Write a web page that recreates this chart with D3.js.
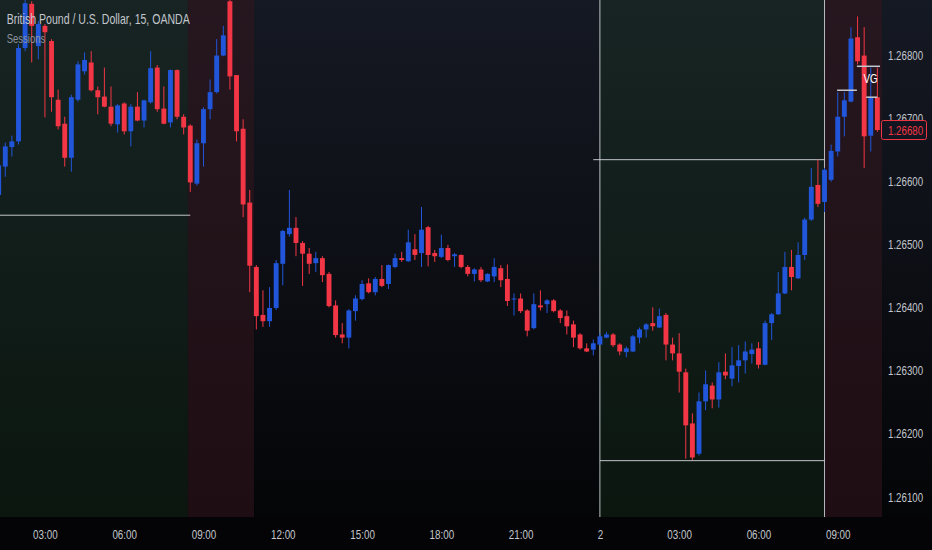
<!DOCTYPE html>
<html><head><meta charset="utf-8">
<script src="https://cdn.jsdelivr.net/npm/d3@7/dist/d3.min.js"></script>
<style>html,body{margin:0;padding:0;background:#000;overflow:hidden}svg{display:block}</style>
</head><body>
<svg id="c" width="932" height="550"></svg>
<script>
// ---- data (bar index 0 = day "2" 00:00, 15-minute bars) ----
const firstBar = -91;
const opens = [
1.26577,1.26622,1.26653,1.26662,1.26810,1.26880,1.26813,1.26845,1.26821,1.26728,
1.26690,1.26636,1.26728,1.26773,1.26787,1.26743,1.26733,1.26717,1.26689,1.26722,
1.26678,1.26717,1.26695,1.26724,1.26779,1.26714,1.26692,1.26775,1.26701,1.26687,
1.26595,1.26659,1.26713,1.26740,1.26798,1.26884,1.26767,1.26682,1.26565,1.26463,
1.26387,1.26377,1.26398,1.26468,1.26515,1.26525,1.26501,1.26484,1.26469,1.26477,
1.26452,1.26402,1.26356,1.26351,1.26393,1.26412,1.26437,1.26423,1.26444,1.26436,
1.26463,1.26477,1.26472,1.26491,1.26485,1.26526,1.26485,1.26479,1.26493,1.26480,
1.26482,1.26463,1.26452,1.26459,1.26440,1.26448,1.26461,1.26444,1.26412,1.26413,
1.26394,1.26366,1.26402,1.26404,1.26410,1.26394,1.26385,1.26372,1.26356,1.26334,
1.26332,1.26340,1.26351,1.26356,1.26340,1.26328,1.26329,1.26351,1.26364,1.26374,
1.26367,1.26387,1.26340,1.26326,1.26296,1.26215,1.26167,1.26250,1.26275,1.26253,
1.26297,1.26286,1.26306,1.26315,1.26325,1.26334,1.26308,1.26374,1.26388,1.26421,
1.26463,1.26445,1.26482,1.26538,1.26593,1.26566,1.26601,1.26646,1.26701,1.26725,
1.26827,1.26798,1.26671,1.26732];
const highs = [
1.26633,1.26660,1.26671,1.26816,1.26888,1.26884,1.26853,1.26848,1.26824,1.26744,
1.26701,1.26736,1.26789,1.26803,1.26805,1.26749,1.26779,1.26749,1.26721,1.26724,
1.26721,1.26740,1.26728,1.26805,1.26783,1.26749,1.26776,1.26776,1.26705,1.26689,
1.26665,1.26716,1.26760,1.26824,1.26845,1.26888,1.26767,1.26697,1.26585,1.26466,
1.26426,1.26431,1.26474,1.26522,1.26585,1.26542,1.26504,1.26493,1.26487,1.26480,
1.26455,1.26410,1.26374,1.26396,1.26418,1.26442,1.26445,1.26447,1.26466,1.26467,
1.26484,1.26487,1.26522,1.26515,1.26558,1.26528,1.26490,1.26514,1.26498,1.26485,
1.26483,1.26466,1.26461,1.26463,1.26453,1.26477,1.26466,1.26467,1.26421,1.26421,
1.26396,1.26421,1.26426,1.26412,1.26412,1.26396,1.26394,1.26378,1.26358,1.26342,
1.26348,1.26358,1.26360,1.26358,1.26342,1.26337,1.26355,1.26367,1.26374,1.26399,
1.26397,1.26390,1.26351,1.26358,1.26302,1.26231,1.26264,1.26299,1.26280,1.26312,
1.26326,1.26336,1.26339,1.26345,1.26342,1.26344,1.26378,1.26390,1.26455,1.26487,
1.26490,1.26502,1.26541,1.26620,1.26633,1.26620,1.26657,1.26740,1.26740,1.26843,
1.26860,1.26843,1.26779,1.26779];
const lows = [
1.26570,1.26606,1.26638,1.26657,1.26805,1.26787,1.26792,1.26700,1.26709,1.26681,
1.26622,1.26614,1.26725,1.26768,1.26741,1.26705,1.26716,1.26686,1.26676,1.26673,
1.26654,1.26694,1.26684,1.26722,1.26709,1.26689,1.26684,1.26697,1.26673,1.26582,
1.26592,1.26622,1.26697,1.26738,1.26797,1.26744,1.26662,1.26542,1.26423,1.26364,
1.26368,1.26368,1.26395,1.26434,1.26511,1.26480,1.26433,1.26452,1.26455,1.26439,
1.26399,1.26351,1.26342,1.26334,1.26378,1.26410,1.26421,1.26418,1.26431,1.26428,
1.26461,1.26471,1.26471,1.26474,1.26463,1.26464,1.26471,1.26477,1.26472,1.26463,
1.26461,1.26448,1.26440,1.26439,1.26439,1.26439,1.26431,1.26401,1.26386,1.26390,
1.26353,1.26364,1.26394,1.26390,1.26391,1.26374,1.26356,1.26336,1.26332,1.26328,
1.26323,1.26339,1.26350,1.26336,1.26323,1.26320,1.26328,1.26342,1.26351,1.26362,
1.26366,1.26315,1.26315,1.26264,1.26159,1.26157,1.26164,1.26236,1.26239,1.26240,
1.26285,1.26274,1.26280,1.26294,1.26310,1.26302,1.26307,1.26347,1.26387,1.26420,
1.26426,1.26444,1.26474,1.26536,1.26558,1.26550,1.26598,1.26638,1.26670,1.26724,
1.26784,1.26620,1.26646,1.26677];
const closes = [
1.26624,1.26654,1.26662,1.26810,1.26881,1.26845,1.26848,1.26835,1.26732,1.26686,
1.26636,1.26732,1.26784,1.26791,1.26743,1.26732,1.26717,1.26690,1.26719,1.26678,
1.26717,1.26695,1.26727,1.26778,1.26713,1.26690,1.26775,1.26701,1.26684,1.26597,
1.26659,1.26713,1.26740,1.26798,1.26830,1.26765,1.26678,1.26562,1.26465,1.26385,
1.26377,1.26398,1.26469,1.26520,1.26525,1.26501,1.26484,1.26468,1.26477,1.26450,
1.26401,1.26355,1.26351,1.26394,1.26413,1.26436,1.26423,1.26444,1.26433,1.26466,
1.26477,1.26474,1.26502,1.26482,1.26522,1.26482,1.26480,1.26493,1.26474,1.26483,
1.26463,1.26452,1.26459,1.26442,1.26452,1.26463,1.26442,1.26409,1.26413,1.26393,
1.26362,1.26404,1.26399,1.26410,1.26393,1.26382,1.26369,1.26351,1.26334,1.26329,
1.26342,1.26353,1.26356,1.26339,1.26329,1.26334,1.26353,1.26364,1.26372,1.26369,
1.26385,1.26340,1.26326,1.26297,1.26212,1.26161,1.26250,1.26277,1.26253,1.26296,
1.26291,1.26307,1.26315,1.26329,1.26332,1.26308,1.26374,1.26388,1.26421,1.26463,
1.26447,1.26482,1.26538,1.26590,1.26563,1.26617,1.26647,1.26701,1.26727,1.26825,
1.26789,1.26670,1.26732,1.26680];

const tickBars   = [-84,-72,-60,-48,-36,-24,-12,0,12,24,36];
const tickLabels = ["03:00","06:00","09:00","12:00","15:00","18:00","21:00","2","03:00","06:00","09:00"];
const priceTicks = [1.261,1.262,1.263,1.264,1.265,1.266,1.267,1.268];
const lastPrice = 1.26680;

// sessions (in bar units)
const sessionKind = ["asia","london","asia","london"];
const sessionFrom = [-93, -62.35, -0.1, 34.05];
const sessionTo   = [-62.35, -52.35, 34.05, 43];
// session range lines
const rangePrice = [1.26545, 1.26633, 1.26156];
const rangeFrom  = [-93, -1, 0];
const rangeTo    = [-62, 34, 34];
const sessionMarks = [0, 34];
// FVG marks
const fvgPrice = [1.26781, 1.26743, 1.26732];
const fvgFrom  = [38.9, 35.9, 40.3];
const fvgTo    = [42.4, 38.9, 42.0];
const fvgText = "VG", fvgTextBar = 39.9, fvgTextPrice = 1.26755;

const titleText = "British Pound / U.S. Dollar, 15, OANDA";
const subText = "Sessions";

// ---- drawing ----
const W = 932, H = 550, plotR = 882, plotB = 517;
const FONT = "'Liberation Sans', Arial, sans-serif";
const UP = "#2156da", DOWN = "#f23645";
const svg = d3.select("#c");
const x = d3.scaleLinear().domain([-90.8, 42.7]).range([0, plotR]);
const y = d3.scaleLinear().domain([1.261, 1.268]).range([496, 54.3]);
const ly = y(lastPrice);

const defs = svg.append("defs");
const gr = defs.append("linearGradient").attr("id","bg").attr("x1",0).attr("y1",0).attr("x2",0).attr("y2",1);
gr.append("stop").attr("offset","0%").attr("stop-color","#151923");
gr.append("stop").attr("offset","100%").attr("stop-color","#040507");
defs.append("clipPath").attr("id","clip").append("rect").attr("width",plotR).attr("height",plotB);
// price-axis labels are hidden where the last-price box covers them
defs.append("clipPath").attr("id","clipAxis").attr("clipPathUnits","userSpaceOnUse")
  .selectAll("rect").data([[0, ly-9.5],[ly+9.5, H]]).join("rect")
  .attr("x",-20).attr("width",80).attr("y",d=>d[0]).attr("height",d=>d[1]-d[0]);

svg.append("rect").attr("width",W).attr("height",plotB).attr("fill","url(#bg)");
svg.append("rect").attr("y",plotB).attr("width",W).attr("height",H-plotB).attr("fill","#040406");

const plot = svg.append("g").attr("clip-path","url(#clip)");
const sessFill = {asia:"rgba(30,62,38,0.30)", london:"rgba(52,22,30,0.55)"};
plot.selectAll("rect.sess").data(sessionKind).join("rect").attr("class","sess")
  .attr("x",(d,k)=>x(sessionFrom[k])).attr("width",(d,k)=>x(sessionTo[k])-x(sessionFrom[k]))
  .attr("y",0).attr("height",plotB).attr("fill",d=>sessFill[d]);

const lineCol = "#d6d8de";
plot.selectAll("line.mark").data(sessionMarks).join("line").attr("class","mark")
  .attr("x1",d=>x(d)).attr("x2",d=>x(d)).attr("y1",0).attr("y2",plotB)
  .attr("stroke",lineCol).attr("stroke-width",1).attr("opacity",0.85);
plot.selectAll("line.range").data(rangePrice).join("line").attr("class","range")
  .attr("x1",(d,k)=>x(rangeFrom[k])).attr("x2",(d,k)=>x(rangeTo[k]))
  .attr("y1",d=>y(d)).attr("y2",d=>y(d))
  .attr("stroke",lineCol).attr("stroke-width",1).attr("opacity",0.9);

const bars = opens.map((o,k)=>({i:firstBar+k,o,h:highs[k],l:lows[k],c:closes[k]}));
const bw = x(0.37) - x(-0.37);
const cg = plot.selectAll("g.bar").data(bars).join("g").attr("class","bar");
cg.append("line")
  .attr("x1",d=>x(d.i)).attr("x2",d=>x(d.i))
  .attr("y1",d=>y(d.h)).attr("y2",d=>y(d.l))
  .attr("stroke",d=>d.c>=d.o?UP:DOWN).attr("stroke-width",1);
cg.append("rect")
  .attr("x",d=>x(d.i)-bw/2).attr("width",bw)
  .attr("y",d=>y(Math.max(d.o,d.c)))
  .attr("height",d=>Math.max(1,Math.abs(y(d.o)-y(d.c))))
  .attr("fill",d=>d.c>=d.o?UP:DOWN);

// FVG marks
plot.selectAll("line.fvg").data(fvgPrice).join("line").attr("class","fvg")
  .attr("x1",(d,k)=>x(fvgFrom[k])).attr("x2",(d,k)=>x(fvgTo[k]))
  .attr("y1",d=>y(d)).attr("y2",d=>y(d))
  .attr("stroke","#c4c7ce").attr("stroke-width",1.5);
plot.append("text").attr("transform",`translate(${x(fvgTextBar)},${y(fvgTextPrice)}) scale(0.78,1)`)
  .attr("font-family",FONT).attr("font-size",12.5).attr("fill","#ffffff").text(fvgText);

// titles
svg.append("text").attr("transform","translate(6.7,24) scale(0.755,1)")
  .attr("font-family",FONT).attr("font-size",14).attr("fill","#c3c6cd").text(titleText);
svg.append("text").attr("transform","translate(6.7,43.4) scale(0.73,1)")
  .attr("font-family",FONT).attr("font-size",13).attr("fill","#8e929b").text(subText);

// axes
const gx = svg.append("g").attr("transform","translate(0,539.3)")
  .call(d3.axisBottom(x).tickValues(tickBars).tickFormat((d,k)=>tickLabels[k]).tickSize(0).tickPadding(0));
gx.select(".domain").remove();
gx.selectAll("text").attr("y",0).attr("dy",0).attr("fill","#c3c6cd")
  .attr("font-family",FONT).attr("font-size",13.5).attr("transform","scale(0.73,1)");

const gy = svg.append("g").attr("transform","translate(888,0)").attr("clip-path","url(#clipAxis)")
  .call(d3.axisRight(y).tickValues(priceTicks).tickFormat(d3.format(".5f")).tickSize(0).tickPadding(0));
gy.select(".domain").remove();
gy.selectAll("text").attr("x",0).attr("dy","0.37em").attr("fill","#c3c6cd")
  .attr("font-family",FONT).attr("font-size",13.5).attr("transform","scale(0.72,1)");

// last price label
svg.append("rect").attr("x",881.5).attr("y",ly-9.5).attr("width",45).attr("height",19).attr("rx",2)
  .attr("fill","#131620").attr("stroke",DOWN).attr("stroke-width",1);
svg.append("text").attr("transform",`translate(888,${ly+5}) scale(0.72,1)`)
  .attr("font-family",FONT).attr("font-size",13.5).attr("fill",DOWN).text(d3.format(".5f")(lastPrice));
</script>
</body></html>
